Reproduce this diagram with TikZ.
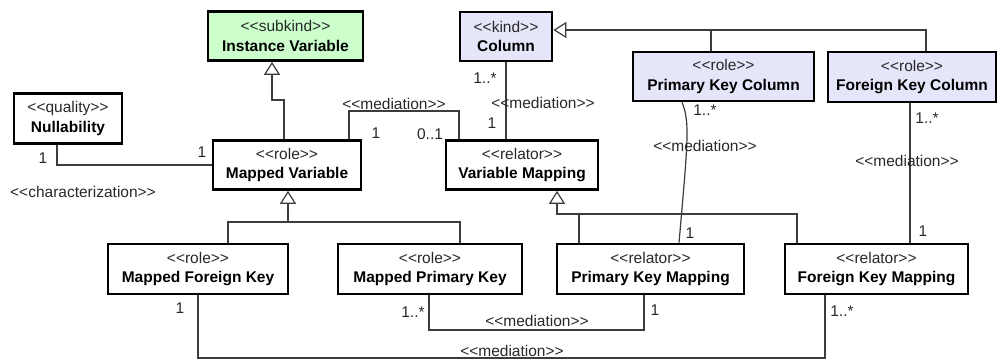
\documentclass[tikz,border=0pt]{standalone}
\usepackage{fontspec}
\setmainfont{Liberation Sans}
\usetikzlibrary{arrows.meta}
\definecolor{kindfill}{RGB}{230,230,250}
\definecolor{subfill}{RGB}{204,255,204}
\definecolor{linegray}{RGB}{60,60,60}
\definecolor{txtgray}{RGB}{40,40,40}
% stereotype text; the kern keeps << and >> from turning into guillemets
\newcommand\ster[1]{<\kern0pt<#1>\kern0pt>}
\newcommand\cls[2]{{\color{txtgray}\ster{#1}}\\\textbf{#2}}
\begin{document}
\begin{tikzpicture}[x=1pt,y=-1pt,
  umlbox/.style={draw=black, line width=2.6pt, fill=white, inner sep=0pt,
    align=center, font=\fontsize{15.5}{19.5}\selectfont, minimum height=49pt},
  conn/.style={draw=linegray, line width=1.2pt},
  gen/.style={conn, -{Triangle[open, length=13pt, width=16pt, fill=white]}},
  lab/.style={inner sep=0pt, text=txtgray, font=\fontsize{15.5}{17}\selectfont}]
\useasboundingbox (0,0) rectangle (1000,360);

% classes
\node[umlbox, fill=subfill, minimum width=155pt] (iv)  at (285.5,36)  {\cls{subkind}{Instance Variable}};
\node[umlbox, fill=kindfill, minimum width=92pt, minimum height=49pt] (col) at (506,36.5) {\cls{kind}{Column}};
\node[umlbox, minimum width=108pt, minimum height=50pt] (nul) at (68,118.5) {\cls{quality}{Nullability}};
\node[umlbox, minimum width=148pt] (mv)  at (287,165)  {\cls{role}{Mapped Variable}};
\node[umlbox, minimum width=152pt] (vm)  at (522,165)  {\cls{relator}{Variable Mapping}};
\node[umlbox, fill=kindfill, minimum width=181pt] (pkc) at (723.5,76.5) {\cls{role}{Primary Key Column}};
\node[umlbox, fill=kindfill, minimum width=168pt, minimum height=50pt] (fkc) at (912,77) {\cls{role}{Foreign Key Column}};
\node[umlbox, minimum width=180pt, minimum height=50pt] (mfk) at (198,269)  {\cls{role}{Mapped Foreign Key}};
\node[umlbox, minimum width=184pt, minimum height=50pt] (mpk) at (430,269)  {\cls{role}{Mapped Primary Key}};
\node[umlbox, minimum width=187pt, minimum height=50pt] (pkm) at (650.5,269) {\cls{relator}{Primary Key Mapping}};
\node[umlbox, minimum width=183pt, minimum height=50pt] (fkm) at (876.5,269) {\cls{relator}{Foreign Key Mapping}};

% generalizations
\draw[gen] (284,0 |- mv.north) -- (284,100) -- (272,100) -- (272,0 |- iv.south);
\draw[gen] (711,0 |- pkc.north) |- (col.east |- 0,30);
\draw[conn] (926,0 |- fkc.north) |- (711,30);
\draw[gen] (228,0 |- mfk.north) |- (288,222) -- (288,0 |- mv.south);
\draw[conn] (460,0 |- mpk.north) |- (288,222);
\draw[gen] (797,0 |- fkm.north) |- (557,214) -- (557,0 |- vm.south);
\draw[conn] (579,0 |- pkm.north) -- (579,214);

% characterization and mediations
\draw[conn] (57,0 |- nul.south) |- (mv.west);
\draw[conn] (349,0 |- mv.north) |- (459,111) -- (459,0 |- vm.north);
\draw[conn] (506,0 |- col.south) -- (506,0 |- vm.north);
\draw[conn] (682,0 |- pkc.south) .. controls (690,122) and (688,140) .. (679,0 |- pkm.north);
\draw[conn] (910,0 |- fkc.south) -- (910,0 |- fkm.north);
\draw[conn] (429,0 |- mpk.south) |- (644,330) -- (644,0 |- pkm.south);
\draw[conn] (198,0 |- mfk.south) |- (825,358) -- (825,0 |- fkm.south);

% association labels
\node[lab] (c1) at (43,158) {1};
\node[lab] (c2) at (202,152) {1};
\node[lab] (c3) at (83,192) {\ster{characterization}};
\node[lab] (m1) at (394,104) {\ster{mediation}};
\node[lab] (m1a) at (376,133) {1};
\node[lab] (m1b) at (430,134) {0..1};
\node[lab] (m2a) at (485,78) {1..*};
\node[lab] (m2) at (543,103) {\ster{mediation}};
\node[lab] (m2b) at (492,123) {1};
\node[lab] (m3a) at (705,110) {1..*};
\node[lab] (m3) at (705,146) {\ster{mediation}};
\node[lab] (m3b) at (690,233) {1};
\node[lab] (m4a) at (927,118) {1..*};
\node[lab] (m4) at (907,161) {\ster{mediation}};
\node[lab] (m4b) at (923,231) {1};
\node[lab] (m5a) at (413,312) {1..*};
\node[lab] (m5) at (537,321) {\ster{mediation}};
\node[lab] (m5b) at (655,310) {1};
\node[lab] (m6a) at (180,308) {1};
\node[lab] (m6) at (512,351) {\ster{mediation}};
\node[lab] (m6b) at (842,311) {1..*};
\end{tikzpicture}
\end{document}
